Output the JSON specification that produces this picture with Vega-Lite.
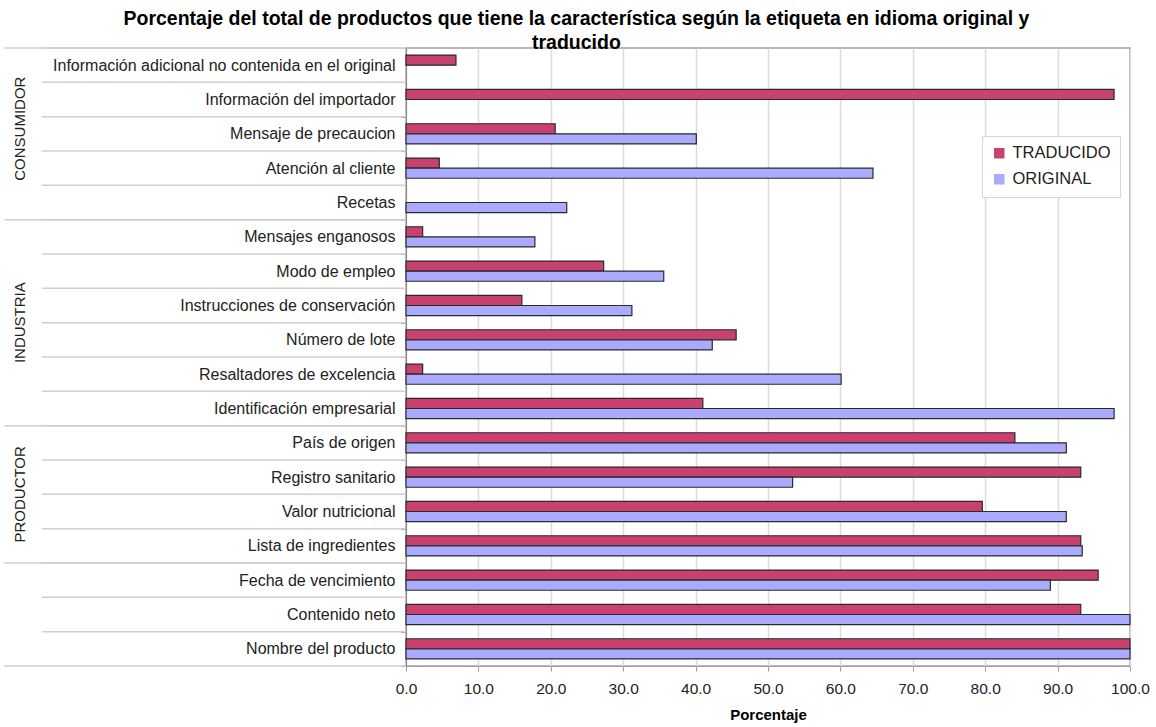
{
  "$schema": "https://vega.github.io/schema/vega-lite/v6.json",
  "autosize": "none",
  "width": 724,
  "height": 618,
  "padding": {"left": 406, "top": 48, "right": 26, "bottom": 61},
  "background": "white",
  "config": {"font": "Liberation Sans", "view": {"stroke": "#a0a0a0", "strokeWidth": 1.5}},
  "title": {
    "text": ["Porcentaje del total de productos que tiene la característica según la etiqueta en idioma original y", "traducido"],
    "fontSize": 19.5, "fontWeight": "bold", "color": "#000", "anchor": "middle", "frame": "bounds", "offset": -13, "lineHeight": 24
  },
  "datasets": {
    "barras": [
      {"c": "Información adicional no contenida en el original", "serie": "TRADUCIDO", "v": 6.9},
      {"c": "Información del importador", "serie": "TRADUCIDO", "v": 97.8},
      {"c": "Mensaje de precaucion", "serie": "TRADUCIDO", "v": 20.6},
      {"c": "Mensaje de precaucion", "serie": "ORIGINAL", "v": 40.1},
      {"c": "Atención al cliente", "serie": "TRADUCIDO", "v": 4.6},
      {"c": "Atención al cliente", "serie": "ORIGINAL", "v": 64.5},
      {"c": "Recetas", "serie": "ORIGINAL", "v": 22.2},
      {"c": "Mensajes enganosos", "serie": "TRADUCIDO", "v": 2.3},
      {"c": "Mensajes enganosos", "serie": "ORIGINAL", "v": 17.8},
      {"c": "Modo de empleo", "serie": "TRADUCIDO", "v": 27.3},
      {"c": "Modo de empleo", "serie": "ORIGINAL", "v": 35.6},
      {"c": "Instrucciones de conservación", "serie": "TRADUCIDO", "v": 16.0},
      {"c": "Instrucciones de conservación", "serie": "ORIGINAL", "v": 31.2},
      {"c": "Número de lote", "serie": "TRADUCIDO", "v": 45.6},
      {"c": "Número de lote", "serie": "ORIGINAL", "v": 42.3},
      {"c": "Resaltadores de excelencia", "serie": "TRADUCIDO", "v": 2.3},
      {"c": "Resaltadores de excelencia", "serie": "ORIGINAL", "v": 60.1},
      {"c": "Identificación empresarial", "serie": "TRADUCIDO", "v": 41.0},
      {"c": "Identificación empresarial", "serie": "ORIGINAL", "v": 97.8},
      {"c": "País de origen", "serie": "TRADUCIDO", "v": 84.1},
      {"c": "País de origen", "serie": "ORIGINAL", "v": 91.2},
      {"c": "Registro sanitario", "serie": "TRADUCIDO", "v": 93.2},
      {"c": "Registro sanitario", "serie": "ORIGINAL", "v": 53.4},
      {"c": "Valor nutricional", "serie": "TRADUCIDO", "v": 79.6},
      {"c": "Valor nutricional", "serie": "ORIGINAL", "v": 91.2},
      {"c": "Lista de ingredientes", "serie": "TRADUCIDO", "v": 93.2},
      {"c": "Lista de ingredientes", "serie": "ORIGINAL", "v": 93.4},
      {"c": "Fecha de vencimiento", "serie": "TRADUCIDO", "v": 95.6},
      {"c": "Fecha de vencimiento", "serie": "ORIGINAL", "v": 89.0},
      {"c": "Contenido neto", "serie": "TRADUCIDO", "v": 93.2},
      {"c": "Contenido neto", "serie": "ORIGINAL", "v": 100},
      {"c": "Nombre del producto", "serie": "TRADUCIDO", "v": 100},
      {"c": "Nombre del producto", "serie": "ORIGINAL", "v": 100}
    ],
    "filas": [
      {"c": "Información adicional no contenida en el original", "inicio_grupo": true},
      {"c": "Información del importador", "inicio_grupo": false},
      {"c": "Mensaje de precaucion", "inicio_grupo": false},
      {"c": "Atención al cliente", "inicio_grupo": false},
      {"c": "Recetas", "inicio_grupo": false},
      {"c": "Mensajes enganosos", "inicio_grupo": true},
      {"c": "Modo de empleo", "inicio_grupo": false},
      {"c": "Instrucciones de conservación", "inicio_grupo": false},
      {"c": "Número de lote", "inicio_grupo": false},
      {"c": "Resaltadores de excelencia", "inicio_grupo": false},
      {"c": "Identificación empresarial", "inicio_grupo": false},
      {"c": "País de origen", "inicio_grupo": true},
      {"c": "Registro sanitario", "inicio_grupo": false},
      {"c": "Valor nutricional", "inicio_grupo": false},
      {"c": "Lista de ingredientes", "inicio_grupo": false},
      {"c": "Fecha de vencimiento", "inicio_grupo": true},
      {"c": "Contenido neto", "inicio_grupo": false},
      {"c": "Nombre del producto", "inicio_grupo": false}
    ],
    "grupos": [
      {"g": "CONSUMIDOR", "c": "Mensaje de precaucion"},
      {"g": "INDUSTRIA", "c": "Número de lote"},
      {"g": "PRODUCTOR", "c": "Valor nutricional"}
    ]
  },
  "layer": [
    {
      "data": {"name": "barras"},
      "mark": {"type": "bar", "stroke": "#2a2a2a", "strokeWidth": 1.2},
      "encoding": {
        "y": {"field": "c", "type": "nominal",
              "scale": {"domain": ["Información adicional no contenida en el original", "Información del importador", "Mensaje de precaucion", "Atención al cliente", "Recetas", "Mensajes enganosos", "Modo de empleo", "Instrucciones de conservación", "Número de lote", "Resaltadores de excelencia", "Identificación empresarial", "País de origen", "Registro sanitario", "Valor nutricional", "Lista de ingredientes", "Fecha de vencimiento", "Contenido neto", "Nombre del producto"], "paddingInner": 0, "paddingOuter": 0},
              "axis": {"title": null, "labelFontSize": 16, "labelColor": "#222", "labelPadding": 6, "tickSize": 5, "tickColor": "#888", "domainColor": "#888", "tickBand": "extent", "labelLimit": 420, "grid": false}},
        "yOffset": {"field": "serie", "type": "nominal", "sort": ["TRADUCIDO", "ORIGINAL"],
                    "scale": {"domain": ["TRADUCIDO", "ORIGINAL"], "paddingInner": 0, "paddingOuter": 0.7}},
        "x": {"field": "v", "type": "quantitative", "scale": {"domain": [0, 100], "nice": false},
              "axis": {"title": "Porcentaje", "format": ".1f", "values": [0, 10, 20, 30, 40, 50, 60, 70, 80, 90, 100],
                       "grid": true, "gridColor": "#dcdcdc", "gridWidth": 1.5, "domainColor": "#a0a0a0", "tickColor": "#a0a0a0",
                       "tickSize": 5, "labelFontSize": 15.5, "labelColor": "#222", "labelPadding": 10, "labelFlush": false,
                       "titleFontSize": 15, "titleFontWeight": "bold", "titleColor": "#000", "titlePadding": 11}},
        "color": {"field": "serie", "type": "nominal",
                  "scale": {"domain": ["TRADUCIDO", "ORIGINAL"], "range": ["#c8416f", "#aaaaff"]},
                  "legend": {"title": null, "orient": "none", "legendX": 576, "legendY": 88, "direction": "vertical",
                             "fillColor": "white", "strokeColor": "#d6d6d6", "padding": 9, "symbolType": "square",
                             "symbolSize": 110, "symbolStrokeWidth": 0, "labelFontSize": 16.5, "labelColor": "#222", "rowPadding": 9, "labelOffset": 5}}
      }
    },
    {
      "data": {"name": "filas"},
      "mark": {"type": "rule", "color": "#cfcfcf", "strokeWidth": 1.5},
      "encoding": {
        "y": {"field": "c", "type": "nominal", "bandPosition": 0,
              "scale": {"domain": ["Información adicional no contenida en el original", "Información del importador", "Mensaje de precaucion", "Atención al cliente", "Recetas", "Mensajes enganosos", "Modo de empleo", "Instrucciones de conservación", "Número de lote", "Resaltadores de excelencia", "Identificación empresarial", "País de origen", "Registro sanitario", "Valor nutricional", "Lista de ingredientes", "Fecha de vencimiento", "Contenido neto", "Nombre del producto"], "paddingInner": 0, "paddingOuter": 0}},
        "x": {"datum": -50.3, "type": "quantitative", "scale": {"domain": [0, 100], "nice": false}},
        "x2": {"datum": 0}
      }
    },
    {
      "data": {"name": "filas"},
      "transform": [{"filter": "datum.inicio_grupo"}],
      "mark": {"type": "rule", "color": "#cfcfcf", "strokeWidth": 1.5},
      "encoding": {
        "y": {"field": "c", "type": "nominal", "bandPosition": 0,
              "scale": {"domain": ["Información adicional no contenida en el original", "Información del importador", "Mensaje de precaucion", "Atención al cliente", "Recetas", "Mensajes enganosos", "Modo de empleo", "Instrucciones de conservación", "Número de lote", "Resaltadores de excelencia", "Identificación empresarial", "País de origen", "Registro sanitario", "Valor nutricional", "Lista de ingredientes", "Fecha de vencimiento", "Contenido neto", "Nombre del producto"], "paddingInner": 0, "paddingOuter": 0}},
        "x": {"datum": -55.5, "type": "quantitative", "scale": {"domain": [0, 100], "nice": false}},
        "x2": {"datum": 0}
      }
    },
    {
      "data": {"name": "filas"},
      "transform": [{"filter": "datum.c == 'Nombre del producto'"}],
      "mark": {"type": "rule", "color": "#cfcfcf", "strokeWidth": 1.5},
      "encoding": {
        "y": {"field": "c", "type": "nominal", "bandPosition": 1,
              "scale": {"domain": ["Información adicional no contenida en el original", "Información del importador", "Mensaje de precaucion", "Atención al cliente", "Recetas", "Mensajes enganosos", "Modo de empleo", "Instrucciones de conservación", "Número de lote", "Resaltadores de excelencia", "Identificación empresarial", "País de origen", "Registro sanitario", "Valor nutricional", "Lista de ingredientes", "Fecha de vencimiento", "Contenido neto", "Nombre del producto"], "paddingInner": 0, "paddingOuter": 0}},
        "x": {"datum": -55.5, "type": "quantitative", "scale": {"domain": [0, 100], "nice": false}},
        "x2": {"datum": 0}
      }
    },
    {
      "data": {"name": "grupos"},
      "transform": [{"filter": "datum.g == 'CONSUMIDOR'"}],
      "mark": {"type": "text", "angle": 270, "align": "center", "baseline": "middle", "fontSize": 15, "color": "#222"},
      "encoding": {
        "y": {"field": "c", "type": "nominal", "bandPosition": 0.35,
              "scale": {"domain": ["Información adicional no contenida en el original", "Información del importador", "Mensaje de precaucion", "Atención al cliente", "Recetas", "Mensajes enganosos", "Modo de empleo", "Instrucciones de conservación", "Número de lote", "Resaltadores de excelencia", "Identificación empresarial", "País de origen", "Registro sanitario", "Valor nutricional", "Lista de ingredientes", "Fecha de vencimiento", "Contenido neto", "Nombre del producto"], "paddingInner": 0, "paddingOuter": 0}},
        "x": {"datum": -53.3, "type": "quantitative", "scale": {"domain": [0, 100], "nice": false}},
        "text": {"field": "g"}
      }
    },
    {
      "data": {"name": "grupos"},
      "transform": [{"filter": "datum.g != 'CONSUMIDOR'"}],
      "mark": {"type": "text", "angle": 270, "align": "center", "baseline": "middle", "fontSize": 15, "color": "#222"},
      "encoding": {
        "y": {"field": "c", "type": "nominal", "bandPosition": 0,
              "scale": {"domain": ["Información adicional no contenida en el original", "Información del importador", "Mensaje de precaucion", "Atención al cliente", "Recetas", "Mensajes enganosos", "Modo de empleo", "Instrucciones de conservación", "Número de lote", "Resaltadores de excelencia", "Identificación empresarial", "País de origen", "Registro sanitario", "Valor nutricional", "Lista de ingredientes", "Fecha de vencimiento", "Contenido neto", "Nombre del producto"], "paddingInner": 0, "paddingOuter": 0}},
        "x": {"datum": -53.3, "type": "quantitative", "scale": {"domain": [0, 100], "nice": false}},
        "text": {"field": "g"}
      }
    }
  ]
}
